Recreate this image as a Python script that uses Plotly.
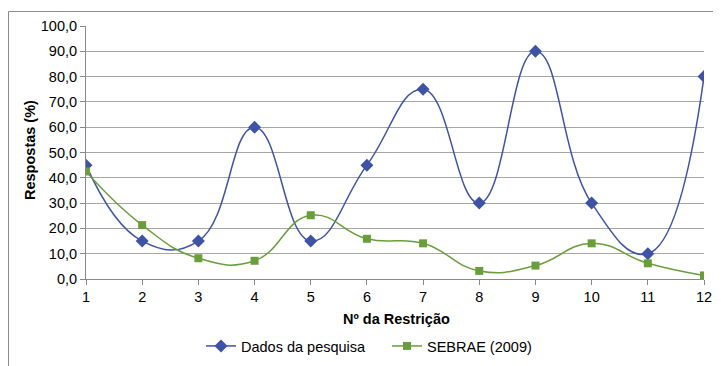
import plotly.graph_objects as go

restricao = [1, 2, 3, 4, 5, 6, 7, 8, 9, 10, 11, 12]
dados_pesquisa = [45, 15, 15, 60, 15, 45, 75, 30, 90, 30, 10, 80]
sebrae_2009 = [42.5, 21.3, 8.2, 7.2, 25.2, 15.9, 14.1, 3.2, 5.3, 14.1, 6.2, 1.4]
y_ticks = [0, 10, 20, 30, 40, 50, 60, 70, 80, 90, 100]

BLUE = "#3F53A5"
GREEN = "#6A9E3A"
FONT = "Liberation Sans, Arial, sans-serif"

fig = go.Figure()
fig.add_trace(go.Scatter(
    x=restricao, y=dados_pesquisa, name="Dados da pesquisa",
    mode="lines+markers", legend="legend",
    line=dict(color=BLUE, width=1.5, shape="spline", smoothing=1.3),
    marker=dict(symbol="diamond", size=10, color=BLUE),
))
fig.add_trace(go.Scatter(
    x=restricao, y=sebrae_2009, name="SEBRAE (2009)",
    mode="lines+markers", legend="legend2",
    line=dict(color=GREEN, width=1.5, shape="spline", smoothing=1.3),
    marker=dict(symbol="square", size=8, color=GREEN),
))

# page has an 8px body margin; figure sized to fit the 721x366 window
OFF = 8
W, H = 721 - OFF, 366 - OFF
L, R, T, B = 78, 17, 18, 87
pw, ph = W - L - R, H - T - B

def px_x(page_px):
    return (page_px - OFF - L) / pw

def px_y(page_py):
    return (H - B - (page_py - OFF)) / ph

leg_common = dict(orientation="h", yanchor="middle", y=px_y(346), xanchor="left",
                  font=dict(size=14.5), itemwidth=30, bgcolor="rgba(0,0,0,0)")

fig.update_layout(
    width=W, height=H,
    margin=dict(l=L, r=R, t=T, b=B, autoexpand=False),
    paper_bgcolor="white", plot_bgcolor="white",
    separators=",.",
    font=dict(family=FONT, size=14.5, color="#000000"),
    showlegend=True,
    legend=dict(x=px_x(201), **leg_common),
    legend2=dict(x=px_x(387), **leg_common),
    xaxis=dict(range=[1, 12], tickvals=restricao, ticks="outside", ticklen=5,
               tickcolor="#888888", showline=True, linecolor="#888888", linewidth=1,
               showgrid=False, zeroline=False, tickfont=dict(size=14.5), automargin=False),
    yaxis=dict(range=[0, 100], tickvals=y_ticks, tickformat=".1f", ticks="outside",
               ticklen=5, tickcolor="#888888", showline=True, linecolor="#888888",
               linewidth=1, showgrid=True, gridcolor="#A6A6A6", gridwidth=1,
               zeroline=False, tickfont=dict(size=14.5), automargin=False),
    annotations=[
        dict(text="<b>Respostas (%)</b>", xref="paper", yref="paper",
             x=px_x(30), y=px_y(150), textangle=-90, showarrow=False,
             xanchor="center", yanchor="middle", font=dict(size=14.5)),
        dict(text="<b>Nº da Restrição</b>", xref="paper", yref="paper",
             x=px_x(396), y=px_y(319), showarrow=False,
             xanchor="center", yanchor="middle", font=dict(size=14.5)),
    ],
    shapes=[
        dict(type="line", xref="paper", yref="paper", x0=px_x(8.5), x1=px_x(8.5),
             y0=px_y(11.5), y1=px_y(380), line=dict(color="#8C8C8C", width=1)),
        dict(type="line", xref="paper", yref="paper", x0=px_x(8.5), x1=px_x(730),
             y0=px_y(11.5), y1=px_y(11.5), line=dict(color="#8C8C8C", width=1)),
    ],
)

fig.write_html("out.html")
